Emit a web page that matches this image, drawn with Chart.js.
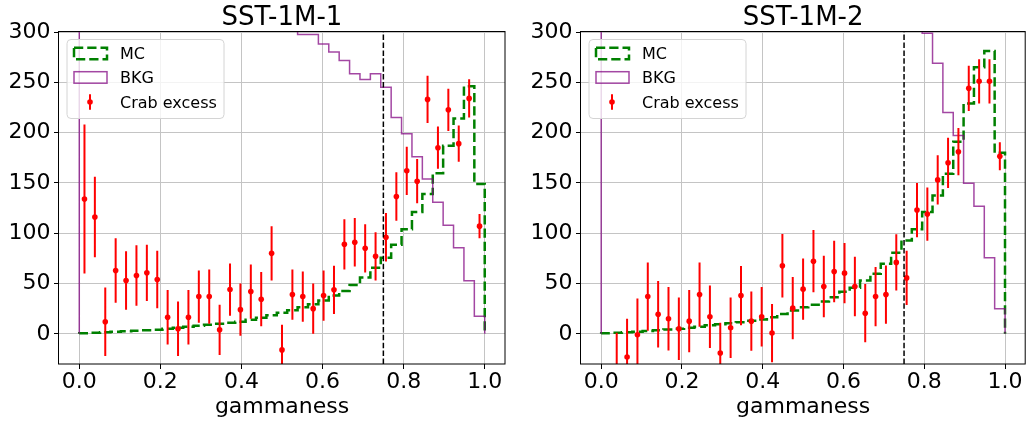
<!DOCTYPE html>
<html lang="en">
<head>
<meta charset="UTF-8">
<title>SST-1M gammaness</title>
<style>
  html, body { margin: 0; padding: 0; background: #fff; }
  body { width: 1028px; height: 427px; position: relative; overflow: hidden; }
  .panel { position: absolute; top: 0; width: 514px; height: 427px; }
  #p1 { left: 0; }
  #p2 { left: 514px; }
</style>
</head>
<body>
<div class="panel" id="p1"><canvas id="chart1"></canvas></div>
<div class="panel" id="p2"><canvas id="chart2"></canvas></div>

<script src="https://cdn.jsdelivr.net/npm/chart.js"></script>
<script>
// 39 gammaness bins between 0 and 1
const nBins = 39;
const binEdges = Array.from({ length: nBins + 1 }, (_, i) => i / nBins);
const binCenters = binEdges.slice(0, nBins).map((e, i) => (e + binEdges[i + 1]) / 2);

const titles = ['SST-1M-1', 'SST-1M-2'];
const cutValues = [0.75, 0.75];
const legendLabels = ['MC', 'BKG', 'Crab excess'];
const xTicks = [0, 0.2, 0.4, 0.6, 0.8, 1.0];
const yTicks = [0, 50, 100, 150, 200, 250, 300];

// SST-1M-1
const mc1 = [0.5, 1, 1.5, 2, 2.5, 3, 3.5, 4, 5, 6, 7, 8, 9, 10, 11, 12, 14, 16, 18.5, 21,
  23.5, 26.5, 29.5, 33, 38, 42.5, 48.5, 56, 65.6, 75.5, 88.5, 104, 121, 139, 159.6, 187, 214, 246, 149];
const bkg1 = [4200, 2600, 1900, 1500, 1250, 1080, 950, 850, 770, 700, 640, 590, 545, 505, 470, 440,
  410, 385, 360, 340, 318, 297.5, 297.5, 288, 280, 271.7, 258.5, 252.8, 258.5, 245, 215, 198.8,
  176, 154, 130.8, 108, 85.5, 52.7, 17.5];
const crab1 = [134, 116, 12, 63, 53, 58, 60.6, 54, 16.5, 5, 16.5, 37, 37, 4, 44, 24, 42, 34.4, 80, -16,
  39, 37, 25, 38, 43.7, 89, 91, 85, 77, 96, 136.5, 162, 151.7, 233, 185, 222.6, 189, 234, 107];
const crabErr1 = [74, 40, 34, 32, 29, 30, 28, 28.5, 27, 27, 27, 26, 27, 25, 26, 26, 27, 27, 27, 25,
  25, 25, 25, 25, 24, 25, 24, 24, 24, 24, 24, 24, 22, 23.5, 21, 21, 18, 19, 12];

// SST-1M-2
const mc2 = [0.6, 1, 1.6, 2, 2.9, 3.5, 4.3, 5, 6, 7, 8.5, 9.5, 10.6, 11.5, 13, 14.2, 16.5, 19.8, 23.2, 26.5,
  28.8, 32, 36.4, 41.7, 45.7, 53, 59.6, 69.6, 80.5, 92.7, 104, 121, 137.5, 159, 191, 229, 265, 281, 180];
const bkg2 = [9000, 6000, 4500, 3600, 3000, 2600, 2300, 2050, 1850, 1680, 1540, 1420, 1310, 1210, 1120,
  1040, 970, 900, 840, 780, 720, 670, 620, 575, 530, 490, 450, 410, 375, 345, 318,
  298.8, 269, 220, 197, 149.7, 126.8, 75.5, 24.8];
const crab2 = [null, -38, -23, -1, 37, 19.5, 15, 5, 12.6, 39, 17, -19, 6, 38, 12.6, 17, 0.7, 67.6, 25.5, 44.4,
  72.2, 47, 62, 60.3, 47, 20.5, 37, 39, 71, 55.6, 123, 119, 153, 170, 181, 244, 251, 251, 176.5];
const crabErr2 = [null, 39, 38, 36, 34, 33, 31.5, 31, 31, 32, 31, 30, 30, 29.5, 29.5, 29.5, 29, 31.5, 31, 30.5,
  31, 30.6, 30.6, 30, 29.5, 29, 29.5, 29, 28, 27, 27, 26.5, 24.5, 25, 23.5, 22.5, 22, 22, 14];

const MC_COLOR = '#008000';
const BKG_COLOR = 'rgba(128,0,128,0.72)';
const CRAB_COLOR = '#ff0000';
const FONT = '"DejaVu Sans", sans-serif';

Chart.defaults.font.family = FONT;
Chart.defaults.color = '#000';

// outline of a step histogram, starting and ending on the baseline
function stepPoints(heights) {
  const pts = [{ x: binEdges[0], y: 0 }];
  heights.forEach((h, i) => pts.push({ x: binEdges[i], y: h }));
  pts.push({ x: binEdges[nBins], y: 0 });
  return pts;
}

function errorBars(vals, errs) {
  const pts = [];
  vals.forEach((v, i) => {
    if (v === null) return;
    pts.push({ x: binCenters[i], y: v - errs[i] }, { x: binCenters[i], y: v + errs[i] }, { x: binCenters[i], y: null });
  });
  return pts;
}

function centers(vals) {
  return vals.map((v, i) => ({ x: binCenters[i], y: v })).filter(p => p.y !== null);
}

const decorations = {
  id: 'decorations',
  afterDatasetsDraw(chart, args, opts) {
    const { ctx, chartArea: a, scales: { x } } = chart;

    // cut line
    ctx.save();
    ctx.beginPath();
    ctx.rect(a.left, a.top, a.right - a.left, a.bottom - a.top);
    ctx.clip();
    const cx = x.getPixelForValue(opts.cut);
    ctx.strokeStyle = '#000';
    ctx.lineWidth = 1.5;
    ctx.setLineDash([5.5, 2.4]);
    ctx.beginPath();
    ctx.moveTo(cx, a.bottom);
    ctx.lineTo(cx, a.top);
    ctx.stroke();
    ctx.restore();

    // legend
    ctx.save();
    const lx = a.left + 8, ly = a.top + 7.5;
    ctx.beginPath();
    ctx.roundRect(lx, ly, 157, 79, 4);
    ctx.fillStyle = 'rgba(255,255,255,0.8)';
    ctx.fill();
    ctx.strokeStyle = '#d4d4d4';
    ctx.lineWidth = 1;
    ctx.stroke();

    const rows = [a.top + 21.5, a.top + 45.5, a.top + 70];
    ctx.lineJoin = 'miter';
    ctx.strokeStyle = MC_COLOR;
    ctx.lineWidth = 2.5;
    ctx.setLineDash([9.25, 4]);
    ctx.strokeRect(a.left + 15, rows[0] - 5.8, 33, 11.5);

    ctx.setLineDash([]);
    ctx.strokeStyle = BKG_COLOR;
    ctx.lineWidth = 1.5;
    ctx.strokeRect(a.left + 15, rows[1] - 5.8, 33, 11.5);

    ctx.strokeStyle = CRAB_COLOR;
    ctx.lineWidth = 2;
    ctx.beginPath();
    ctx.moveTo(a.left + 31, rows[2] - 7.7);
    ctx.lineTo(a.left + 31, rows[2] + 7.7);
    ctx.stroke();
    ctx.fillStyle = CRAB_COLOR;
    ctx.beginPath();
    ctx.arc(a.left + 31, rows[2], 2.8, 0, Math.PI * 2);
    ctx.fill();

    ctx.fillStyle = '#000';
    ctx.font = '16px ' + FONT;
    ctx.textAlign = 'left';
    ctx.textBaseline = 'alphabetic';
    legendLabels.forEach((t, i) => ctx.fillText(t, a.left + 61, rows[i] + 5.8));
    ctx.restore();

    // frame
    ctx.save();
    ctx.strokeStyle = '#000';
    ctx.lineWidth = 1;
    ctx.strokeRect(a.left - 0.5, a.top - 0.5, a.right - a.left + 0.5, a.bottom - a.top + 0.5);
    ctx.restore();

    // title
    ctx.save();
    ctx.fillStyle = '#000';
    ctx.font = '26px ' + FONT;
    ctx.textAlign = 'center';
    ctx.textBaseline = 'alphabetic';
    ctx.fillText(opts.title, (a.left + a.right) / 2, 25);
    ctx.restore();
  }
};

function makeChart(id, idx, mc, bkg, crab, crabErr, padLeft, padRight) {
  return new Chart(document.getElementById(id), {
    type: 'line',
    data: {
      datasets: [
        { label: 'Crab excess', data: centers(crab), showLine: false, pointRadius: 2.8, pointHoverRadius: 2.8,
          pointBackgroundColor: CRAB_COLOR, pointBorderWidth: 0, order: 0 },
        { label: 'Crab excess err', data: errorBars(crab, crabErr), borderColor: CRAB_COLOR, borderWidth: 2,
          pointRadius: 0, spanGaps: false, order: 1 },
        { label: 'BKG', data: stepPoints(bkg), stepped: true, borderColor: BKG_COLOR, borderWidth: 1.5,
          pointRadius: 0, order: 2 },
        { label: 'MC', data: stepPoints(mc), stepped: true, borderColor: MC_COLOR, borderWidth: 2.5,
          borderDash: [9.25, 4], borderJoinStyle: 'miter', pointRadius: 0, order: 3 }
      ]
    },
    options: {
      responsive: true,
      maintainAspectRatio: false,
      animation: false,
      events: [],
      layout: { padding: { left: padLeft, right: padRight, top: 32, bottom: 0 } },
      plugins: {
        legend: { display: false },
        tooltip: { enabled: false },
        decorations: { cut: cutValues[idx], title: titles[idx] }
      },
      scales: {
        x: {
          type: 'linear', min: -0.05, max: 1.05,
          afterBuildTicks: s => { s.ticks = xTicks.map(v => ({ value: v })); },
          afterFit: s => { s.height = 63; },
          ticks: { font: { size: 22 }, padding: 0, maxRotation: 0, callback: v => v.toFixed(1) },
          grid: { color: '#c4c4c4', lineWidth: 1, tickColor: '#000', tickLength: 5 },
          border: { display: false },
          title: { display: true, text: 'gammaness', font: { size: 22 }, padding: { top: 0, bottom: 7 } }
        },
        y: {
          type: 'linear', min: -30, max: 300,
          afterBuildTicks: s => { s.ticks = yTicks.map(v => ({ value: v })); },
          afterFit: s => { s.width = 59; },
          ticks: { font: { size: 22 }, padding: 3.5 },
          grid: { color: '#c4c4c4', lineWidth: 1, tickColor: '#000', tickLength: 5 },
          border: { display: false }
        }
      }
    },
    plugins: [decorations]
  });
}

makeChart('chart1', 0, mc1, bkg1, crab1, crabErr1, 0, 9);
makeChart('chart2', 1, mc2, bkg2, crab2, crabErr2, 8, 1);
</script>
</body>
</html>
